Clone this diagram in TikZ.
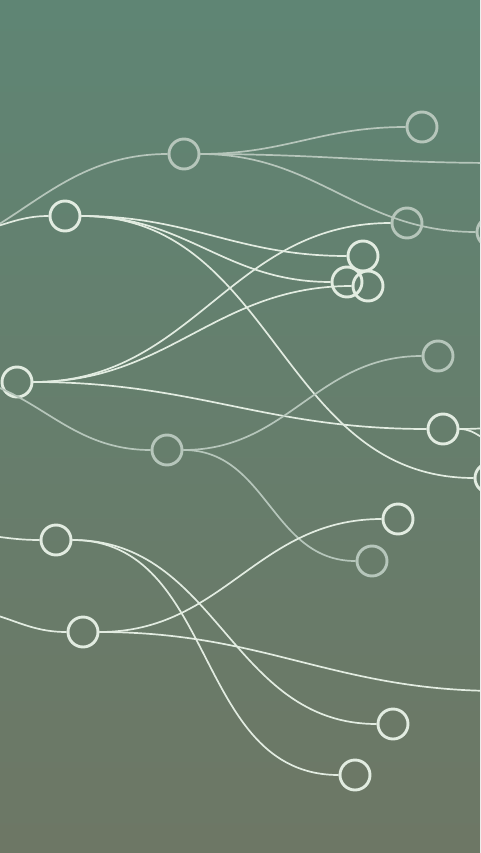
\documentclass[tikz,border=0pt]{standalone}
\usepackage{tikz}

\definecolor{bgtop}{RGB}{95,133,116}
\definecolor{bgbot}{RGB}{109,119,101}
\definecolor{lite}{RGB}{226,236,225}
\definecolor{fade}{RGB}{182,198,187}

\begin{document}
\begin{tikzpicture}[x=1pt, y=-1pt,
  dot/.style = {draw=lite, circle, line width=2.9pt, minimum size=30pt, inner sep=0pt},
  dimdot/.style = {dot, draw=fade},
  link/.style = {draw=lite, line width=1.7pt, out=0, in=180, looseness=1.05},
  dimlink/.style = {link, draw=fade}]
\useasboundingbox (0,0) rectangle (480,853);
\shade[top color=bgtop, bottom color=bgbot] (0,0) rectangle (480,853);
\clip (0,0) rectangle (480,853);

\node[dimdot] (A) at (184,154) {};
\node[dot] (B) at (65,216) {};
\node[dimdot] (C) at (422,127) {};
\node[dimdot] (D) at (407,223) {};
\node[dot] (E) at (363,256) {};
\node[dot] (F) at (347,282) {};
\node[dot] (G) at (368,286) {};
\node[dimdot] (M) at (492,232) {};
\node[dot] (H) at (17,382) {};
\node[dimdot] (I) at (438,356) {};
\node[dimdot] (J) at (167,450) {};
\node[dot] (K) at (443,429) {};
\node[dot] (L) at (490,478) {};
\node[dot] (N) at (398,519) {};
\node[dimdot] (O) at (372,561) {};
\node[dot] (P) at (56,540) {};
\node[dot] (Q) at (83,632) {};
\node[dot] (R) at (393,724) {};
\node[dot] (S) at (355,775) {};

\coordinate (wA) at (-120,262);
\coordinate (wB) at (-40,232);
\coordinate (wJ) at (-60,376);
\coordinate (wP) at (-40,534);
\coordinate (wQ) at (-40,610);
\coordinate (eA) at (500,163);
\coordinate (eK1) at (500,428);
\coordinate (eK2) at (500,443);
\coordinate (eQ) at (500,691);

\draw[dimlink] (wA) to (A);
\draw[link] (wB) to (B);
\draw[dimlink] (A) to (C);
\draw[dimlink] (A) to (eA);
\draw[dimlink] (A) to (M);
\draw[link] (B) to (E);
\draw[link] (B) to (F);
\draw[link] (B) to (L);
\draw[link] (H) to (D);
\draw[link] (H) to (G);
\draw[link] (H) to (K);
\draw[link] (K) to (eK1);
\draw[link] (K) to (eK2);
\draw[dimlink] (wJ) to (J);
\draw[dimlink] (J) to (I);
\draw[dimlink] (J) to (O);
\draw[link] (wP) to (P);
\draw[link] (P) to (R);
\draw[link] (P) to (S);
\draw[link] (wQ) to (Q);
\draw[link] (Q) to (N);
\draw[link] (Q) to (eQ);
\end{tikzpicture}
\end{document}
